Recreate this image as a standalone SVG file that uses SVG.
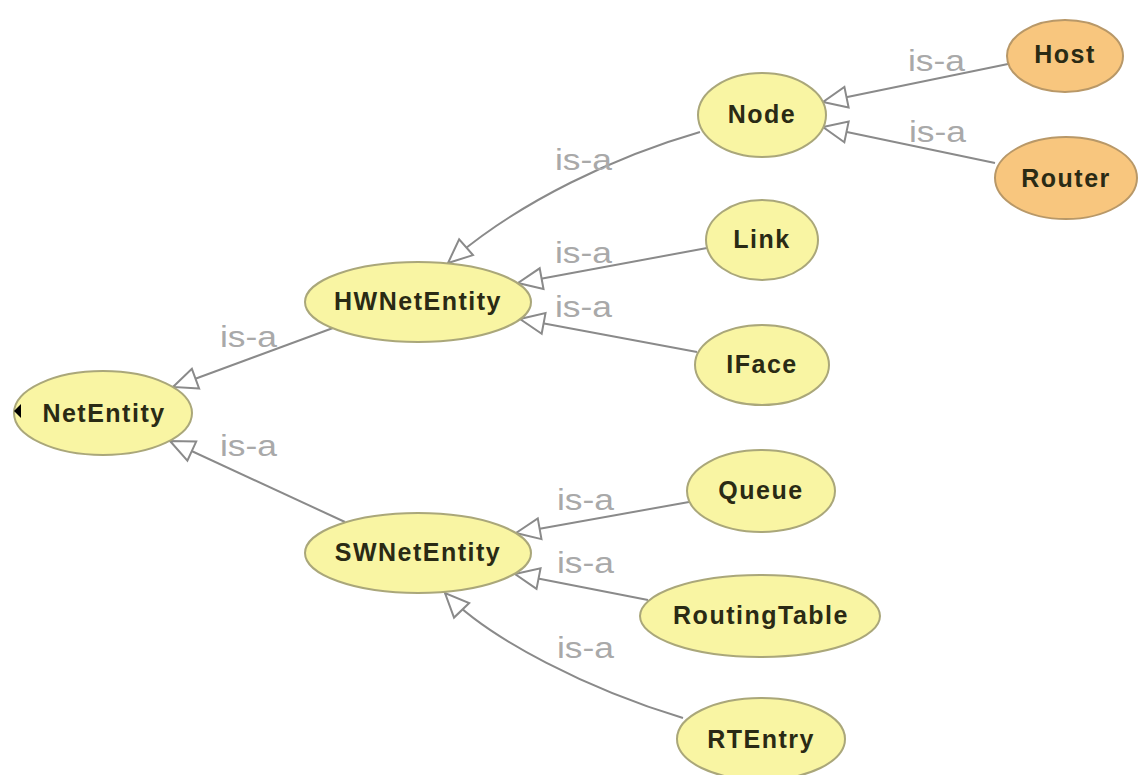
<svg xmlns="http://www.w3.org/2000/svg" width="1140" height="775" viewBox="0 0 1140 775">
  <style>
    .node ellipse { stroke-width: 2; }
    .cls ellipse { fill: #f9f5a3; stroke: #aaa77a; }
    .ind ellipse { fill: #f8c67e; stroke: #b89868; }
    .node text { font-family: "Liberation Sans", Arial, sans-serif; font-weight: bold; font-size: 25px; letter-spacing: 1.5px; fill: #2a2a14; text-anchor: middle; }
    .edge { fill: none; stroke: #8a8a8a; stroke-width: 2; marker-end: url(#isa); }
    .lbl { font-family: "Liberation Sans", Arial, sans-serif; font-size: 29px; fill: #a9a9a9; }
  </style>
  <defs>
    <marker id="isa" markerUnits="userSpaceOnUse" markerWidth="26" markerHeight="23" viewBox="0 0 26 23" refX="25" refY="11.5" orient="auto" overflow="visible">
      <path d="M1,1 L25,11.5 L1,22 Z" fill="#ffffff" stroke="#8a8a8a" stroke-width="2" stroke-linejoin="miter"/>
    </marker>
  </defs>
  <rect width="1140" height="775" fill="#ffffff"/>

  <!-- subclass connectors -->
  <g id="connectors">
    <path class="edge" d="M333,328 L173,387"/>
    <path class="edge" d="M345,522 L170,441"/>
    <path class="edge" d="M700,132 C620,155 520,200 448,263"/>
    <path class="edge" d="M707,248 L518,283"/>
    <path class="edge" d="M697,352 L520,319"/>
    <path class="edge" d="M1008,64 L823,102"/>
    <path class="edge" d="M995,163 L823,127"/>
    <path class="edge" d="M689,502 L516,533"/>
    <path class="edge" d="M648,600 L515,574"/>
    <path class="edge" d="M683,718 C590,690 490,640 445,593"/>
    <text class="lbl" x="220" y="347" textLength="57" lengthAdjust="spacingAndGlyphs">is-a</text>
    <text class="lbl" x="220" y="456" textLength="57" lengthAdjust="spacingAndGlyphs">is-a</text>
    <text class="lbl" x="555" y="170" textLength="57" lengthAdjust="spacingAndGlyphs">is-a</text>
    <text class="lbl" x="555" y="263" textLength="57" lengthAdjust="spacingAndGlyphs">is-a</text>
    <text class="lbl" x="555" y="317" textLength="57" lengthAdjust="spacingAndGlyphs">is-a</text>
    <text class="lbl" x="908" y="71" textLength="57" lengthAdjust="spacingAndGlyphs">is-a</text>
    <text class="lbl" x="909" y="142" textLength="57" lengthAdjust="spacingAndGlyphs">is-a</text>
    <text class="lbl" x="557" y="510" textLength="57" lengthAdjust="spacingAndGlyphs">is-a</text>
    <text class="lbl" x="557" y="573" textLength="57" lengthAdjust="spacingAndGlyphs">is-a</text>
    <text class="lbl" x="557" y="658" textLength="57" lengthAdjust="spacingAndGlyphs">is-a</text>
  </g>

  <!-- classes and individuals -->
  <g id="NetEntity" class="node cls">
    <ellipse cx="103" cy="413" rx="89" ry="42"/>
    <path d="M14,411 L21,404 L21,418 Z" fill="#000000"/>
    <text x="104" y="422">NetEntity</text>
  </g>
  <g id="HWNetEntity" class="node cls">
    <ellipse cx="418" cy="302" rx="113" ry="40"/>
    <text x="418" y="310">HWNetEntity</text>
  </g>
  <g id="SWNetEntity" class="node cls">
    <ellipse cx="418" cy="553" rx="113" ry="40"/>
    <text x="418" y="561">SWNetEntity</text>
  </g>
  <g id="Node" class="node cls">
    <ellipse cx="762" cy="115" rx="64" ry="42"/>
    <text x="762" y="123">Node</text>
  </g>
  <g id="Link" class="node cls">
    <ellipse cx="762" cy="240" rx="56" ry="40"/>
    <text x="762" y="248">Link</text>
  </g>
  <g id="IFace" class="node cls">
    <ellipse cx="762" cy="365" rx="67" ry="40"/>
    <text x="762" y="373">IFace</text>
  </g>
  <g id="Queue" class="node cls">
    <ellipse cx="761" cy="491" rx="74" ry="41"/>
    <text x="761" y="499">Queue</text>
  </g>
  <g id="RoutingTable" class="node cls">
    <ellipse cx="760" cy="616" rx="120" ry="41"/>
    <text x="761" y="624">RoutingTable</text>
  </g>
  <g id="RTEntry" class="node cls">
    <ellipse cx="761" cy="739" rx="84" ry="41"/>
    <text x="761" y="748">RTEntry</text>
  </g>
  <g id="Host" class="node ind">
    <ellipse cx="1065" cy="56" rx="58" ry="36"/>
    <text x="1065" y="63">Host</text>
  </g>
  <g id="Router" class="node ind">
    <ellipse cx="1066" cy="178" rx="71" ry="41"/>
    <text x="1066" y="187">Router</text>
  </g>
</svg>
